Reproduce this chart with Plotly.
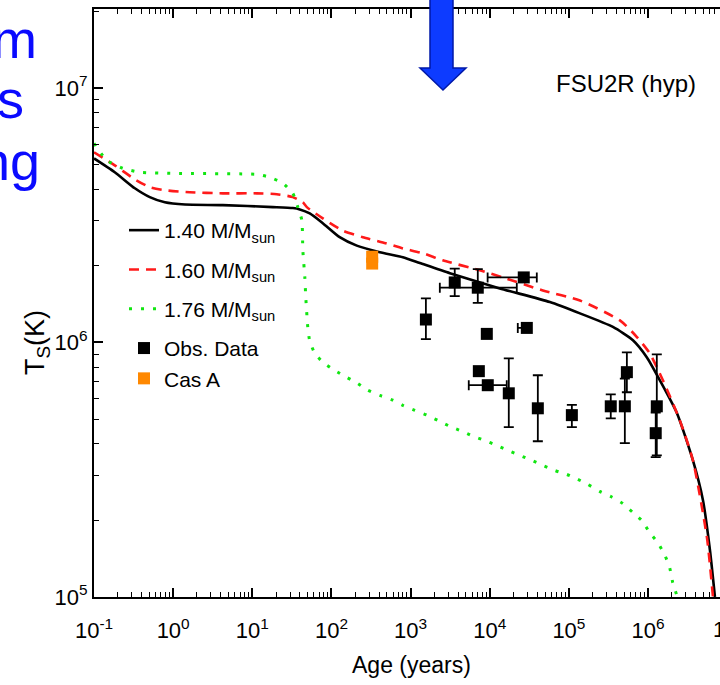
import plotly.graph_objects as go

# ---------------- data ----------------
# cooling curves: age (years) and surface temperature (K)
age_140 = [0.1, 0.183, 0.328, 0.507, 0.785, 1.41, 4.24, 18.2, 32.5, 39.8, 53.2, 77.8, 127, 209, 408, 798, 1309,
           3133, 1.34e4, 5.75e4, 1.38e5, 3.60e5, 6.44e5, 9.68e5, 1.41e6, 2.32e6, 3.69e6, 4.94e6, 6.05e6, 7.00e6]
T_140 = [5.28e6, 4.66e6, 4.03e6, 3.72e6, 3.55e6, 3.48e6, 3.46e6, 3.40e6, 3.37e6, 3.33e6, 3.21e6, 2.94e6, 2.59e6,
         2.40e6, 2.26e6, 2.16e6, 2.05e6, 1.87e6, 1.63e6, 1.44e6, 1.30e6, 1.15e6, 1.02e6, 8.73e5, 7.10e5, 5.27e5,
         3.44e5, 2.40e5, 1.53e5, 1.0e5]

age_160 = [0.1, 0.183, 0.328, 0.507, 0.785, 1.62, 4.24, 11.4, 20.4, 32.5, 43.5, 48.9, 77.8, 139, 249, 446, 798,
           1426, 2553, 7499, 1.46e4, 4.68e4, 1.38e5, 4.41e5, 7.23e5, 1.05e6, 1.54e6, 2.52e6, 3.69e6, 5.55e6, 6.61e6]
T_160 = [5.58e6, 4.96e6, 4.37e6, 4.07e6, 3.96e6, 3.89e6, 3.85e6, 3.85e6, 3.82e6, 3.72e6, 3.55e6, 3.40e6, 3.07e6,
         2.75e6, 2.59e6, 2.47e6, 2.34e6, 2.24e6, 2.10e6, 1.92e6, 1.80e6, 1.60e6, 1.46e6, 1.22e6, 1.05e6, 9.06e5,
         7.10e5, 4.94e5, 3.44e5, 1.71e5, 1.0e5]

age_176 = [0.1, 0.145, 0.231, 0.379, 0.991, 11.4, 16.6, 24.3, 32.5, 37.6, 42.3, 43.5, 46.1, 47.4, 50.2, 53.2,
           61.7, 77.8, 110, 156, 215, 288, 408, 596, 798, 1130, 1603, 2208, 3133, 4436, 6109, 8670, 1.23e4,
           1.69e4, 2.40e4, 3.40e4, 4.68e4, 6.64e4, 9.40e4, 1.29e5, 1.73e5, 2.45e5, 3.48e5, 4.79e5, 6.40e5,
           8.32e5, 1.05e6, 1.32e6, 1.63e6, 1.88e6, 2.05e6, 2.37e6]
T_176 = [6.05e6, 5.19e6, 4.83e6, 4.66e6, 4.61e6, 4.57e6, 4.45e6, 4.22e6, 3.85e6, 3.40e6, 3.02e6, 2.30e6, 1.80e6,
         1.50e6, 1.15e6, 1.01e6, 9.06e5, 8.36e5, 7.76e5, 7.29e5, 6.90e5, 6.49e5, 6.19e5, 5.93e5, 5.66e5, 5.41e5,
         5.18e5, 4.94e5, 4.68e5, 4.48e5, 4.28e5, 4.12e5, 3.94e5, 3.77e5, 3.60e5, 3.44e5, 3.29e5, 3.14e5, 3.03e5,
         2.90e5, 2.77e5, 2.60e5, 2.47e5, 2.33e5, 2.15e5, 2.00e5, 1.79e5, 1.64e5, 1.46e5, 1.30e5, 1.14e5, 9.9e4]

# observed data: age (years), surface temperature (K) with error bars
obs_age = [3.61e3, 7.06e3, 2.69e4, 1.56e3, 9.18e3, 2.94e4, 7.28e3, 9.44e3, 1.74e4, 4.05e4, 1.09e5, 3.38e5,
           5.40e5, 5.09e5, 1.29e6, 1.25e6]
obs_T = [1.72e6, 1.64e6, 1.80e6, 1.23e6, 1.08e6, 1.14e6, 7.71e5, 6.79e5, 6.31e5, 5.51e5, 5.18e5, 5.61e5,
         7.64e5, 5.61e5, 5.61e5, 4.40e5]
obs_T_plus = [2.3e5, 3.0e5, 3e4, 2.6e5, 0, 0, 0, 0, 2.35e5, 1.92e5, 5e4, 6.4e4, 1.5e5, 1.6e5, 3.36e5, 9e4]
obs_T_minus = [2.0e5, 2.1e5, 3e4, 2.0e5, 0, 0, 0, 0, 1.66e5, 1.42e5, 5.3e4, 5.8e4, 1.27e5, 1.59e5, 2.01e5, 8.6e4]
obs_age_plus = [0, 1.49e4, 1.24e4, 0, 0, 0, 0, 6.96e3, 0, 0, 0, 0, 0, 0, 0, 0]
obs_age_minus = [0, 4.72e3, 1.75e4, 0, 0, 6.8e3, 0, 4.01e3, 0, 0, 0, 0, 0, 0, 0, 0]

casA_age = [327, 327]
casA_T = [2.17e6, 2.04e6]

x_tickvals = [1e-1, 1e0, 1e1, 1e2, 1e3, 1e4, 1e5, 1e6]
x_ticktext = ['10<sup>-1</sup>', '10<sup>0</sup>', '10<sup>1</sup>', '10<sup>2</sup>', '10<sup>3</sup>',
              '10<sup>4</sup>', '10<sup>5</sup>', '10<sup>6</sup>']
y_tickvals = [1e5, 1e6, 1e7]
y_ticktext = ['10<sup>5</sup>', '10<sup>6</sup>', '10<sup>7</sup>']

FONT = 'Liberation Sans, Arial, sans-serif'

# ---------------- figure ----------------
fig = go.Figure()
fig.add_trace(go.Scatter(x=age_140, y=T_140, mode='lines', name='1.40 M/M<sub>sun</sub>', legendgroup='a',
                         line=dict(color='black', width=2.6, shape='spline', smoothing=0.6)))
fig.add_trace(go.Scatter(x=age_160, y=T_160, mode='lines', name='1.60 M/M<sub>sun</sub>', legendgroup='b',
                         line=dict(color='#ff1a1a', width=2.6, dash='10px,7px', shape='spline', smoothing=0.6)))
fig.add_trace(go.Scatter(x=age_176, y=T_176, mode='lines', name='1.76 M/M<sub>sun</sub>', legendgroup='c',
                         line=dict(color='#11e611', width=3, dash='3px,9px', shape='spline', smoothing=0.5)))
fig.add_trace(go.Scatter(x=obs_age, y=obs_T, mode='markers', name='Obs. Data', legendgroup='d',
                         marker=dict(symbol='square', size=12, color='black'),
                         error_y=dict(type='data', array=obs_T_plus, arrayminus=obs_T_minus,
                                      color='black', thickness=1.8, width=5),
                         error_x=dict(type='data', array=obs_age_plus, arrayminus=obs_age_minus,
                                      color='black', thickness=1.8, width=5)))
fig.add_trace(go.Scatter(x=casA_age, y=casA_T, mode='markers', name='Cas A', legendgroup='d',
                         marker=dict(symbol='square', size=12, color='#ff8800')))

minor_x = [m * 10 ** e for e in range(-1, 7) for m in range(2, 10)]
minor_y = [m * 10 ** e for e in range(5, 8) for m in range(2, 10)]

W, H = 720, 685
L, R, T, B = 94, 0, 9, 88
pw, ph = W - L - R, H - T - B


def px(x):
    return (x - L) / pw


def py(y):
    return (H - B - y) / ph


fig.update_layout(
    width=W, height=H,
    margin=dict(l=L, r=R, t=T, b=B, pad=0),
    paper_bgcolor='white', plot_bgcolor='white',
    font=dict(family=FONT, size=21, color='black'),
    showlegend=True,
    legend=dict(x=px(124), y=py(210), xanchor='left', yanchor='top',
                bgcolor='rgba(0,0,0,0)', font=dict(size=21, family=FONT),
                traceorder='grouped', tracegroupgap=9, itemwidth=30),
    xaxis=dict(type='log', range=[-1, -1 + pw / 79.15], tickmode='array',
               tickvals=x_tickvals, ticktext=x_ticktext,
               ticks='inside', ticklen=9, tickwidth=1.6, tickcolor='black',
               showline=True, linecolor='black', linewidth=2, mirror='ticks',
               showgrid=False, zeroline=False, ticklabelstandoff=13,
               minor=dict(tickmode='array', tickvals=minor_x, ticks='inside',
                          ticklen=5, tickwidth=1.2, tickcolor='black', showgrid=False),
               tickfont=dict(size=22)),
    yaxis=dict(type='log', range=[5, 5 + ph / 254.6], tickmode='array',
               tickvals=y_tickvals, ticktext=y_ticktext,
               ticks='inside', ticklen=9, tickwidth=1.6, tickcolor='black',
               showline=True, linecolor='black', linewidth=2, mirror=False,
               showgrid=False, zeroline=False, ticklabelstandoff=0,
               minor=dict(tickmode='array', tickvals=minor_y, ticks='inside',
                          ticklen=5, tickwidth=1.2, tickcolor='black', showgrid=False),
               tickfont=dict(size=22)),
)

ann = []
# axis titles
ann.append(dict(text='Age (years)', x=px(411), y=py(665), xref='paper', yref='paper',
                showarrow=False, xanchor='center', yanchor='middle', font=dict(size=23)))
ann.append(dict(text='T<sub>S</sub>(K)', x=px(37), y=py(343), xref='paper', yref='paper',
                showarrow=False, xanchor='center', yanchor='middle', textangle=-90,
                font=dict(size=27)))
ann.append(dict(text='FSU2R (hyp)', x=px(626), y=py(84), xref='paper', yref='paper',
                showarrow=False, xanchor='center', yanchor='middle', font=dict(size=24)))
# cut-off 10^7 tick label at the right edge
ann.append(dict(text='10<sup>7</sup>', x=px(729), y=py(628), xref='paper', yref='paper',
                showarrow=False, xanchor='center', yanchor='middle', font=dict(size=22)))
# slide text fragments (cut off at the left)
for txt, xr, yb in [('m', 39, 58), ('s', 26, 118), ('ng', 42, 180)]:
    ann.append(dict(text=txt, x=px(xr), y=py(yb - 19), xref='paper', yref='paper',
                    showarrow=False, xanchor='right', yanchor='middle',
                    font=dict(size=54, color='#0a0aff', family=FONT)))
fig.update_layout(annotations=ann)

shapes = []
# big blue arrow
path = 'M {a},{t} L {b},{t} L {b},{h} L {c},{h} L {d},{tip} L {e},{h} L {f},{h} L {a},{h} Z'.format(
    a=px(430), b=px(453), t=py(-5), h=py(68), c=px(466), d=px(443), tip=py(90), e=px(420), f=px(430))
shapes.append(dict(type='path', path=path, xref='paper', yref='paper',
                   fillcolor='#0d3bff', line=dict(color='#0018a8', width=1.5)))
# right-axis major tick fragments visible at the image edge
for yv in [7, 6]:
    shapes.append(dict(type='line', xref='paper', yref='y', x0=px(718), x1=1.0, y0=yv, y1=yv,
                       line=dict(color='black', width=1.6)))
fig.update_layout(shapes=shapes)

fig.write_html('out.html')
